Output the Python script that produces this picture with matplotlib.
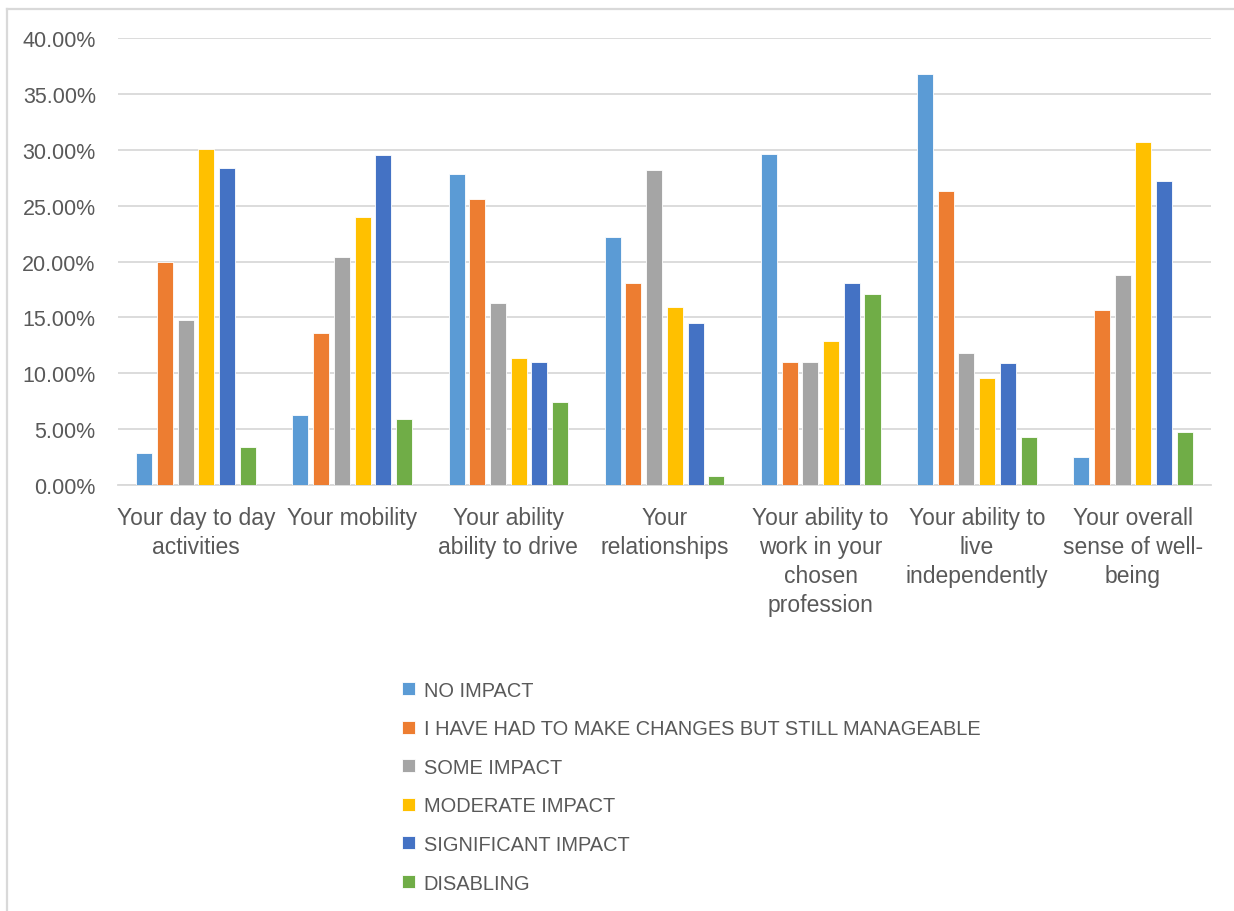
import numpy as np
import matplotlib.pyplot as plt
from matplotlib.lines import Line2D
from matplotlib.ticker import PercentFormatter

plt.rcParams['font.family'] = ['Liberation Sans', 'DejaVu Sans']

categories = ["Your day to day\nactivities", "Your mobility", "Your ability\nability to drive",
              "Your\nrelationships", "Your ability to\nwork in your\nchosen\nprofession",
              "Your ability to\nlive\nindependently", "Your overall\nsense of well-\nbeing"]

no_impact = [2.9, 6.3, 27.8, 22.2, 29.6, 36.8, 2.5]
changes_manageable = [20.0, 13.6, 25.6, 18.1, 11.0, 26.3, 15.7]
some_impact = [14.8, 20.4, 16.3, 28.2, 11.0, 11.8, 18.8]
moderate_impact = [30.05, 24.0, 11.4, 15.9, 12.9, 9.6, 30.7]
significant_impact = [28.4, 29.5, 11.0, 14.5, 18.1, 10.9, 27.2]
disabling = [3.4, 5.9, 7.4, 0.85, 17.1, 4.3, 4.75]

series = [
    ("NO IMPACT", no_impact, "#5B9BD5"),
    ("I HAVE HAD TO MAKE CHANGES BUT STILL MANAGEABLE", changes_manageable, "#ED7D31"),
    ("SOME IMPACT", some_impact, "#A5A5A5"),
    ("MODERATE IMPACT", moderate_impact, "#FFC000"),
    ("SIGNIFICANT IMPACT", significant_impact, "#4472C4"),
    ("DISABLING", disabling, "#70AD47"),
]

text_color = "#595959"
grid_color = "#D9D9D9"

fig = plt.figure(figsize=(12.34, 9.12), dpi=100)
ax = fig.add_axes([0.0956, 0.4671, 0.8858, 0.4901])

x = np.arange(len(categories))
step = 0.1327
width = 0.103
for i, (name, vals, col) in enumerate(series):
    ax.bar(x + (i - 2.5) * step, vals, width, color=col, label=name,
           edgecolor="white", linewidth=0.6, zorder=3)

ax.set_xlim(-0.5, len(categories) - 0.5)
ax.set_ylim(0, 40)
ax.set_yticks(np.arange(0, 41, 5))
ax.yaxis.set_major_formatter(PercentFormatter(decimals=2))
ax.grid(axis="y", color=grid_color, linewidth=1.3, zorder=0)
for s in ["top", "right", "left"]:
    ax.spines[s].set_visible(False)
ax.spines["bottom"].set_color(grid_color)
ax.spines["bottom"].set_linewidth(1.3)

ax.set_xticks(x)
ax.set_xticklabels(categories, fontsize=16.5, color=text_color, linespacing=1.33, va="top")
ax.tick_params(axis="x", length=0, pad=15)
ax.tick_params(axis="y", length=0, pad=16, labelsize=15.5, labelcolor=text_color)

leg = fig.legend(loc="upper left", bbox_to_anchor=(0.3115, 0.2724), frameon=False,
                 fontsize=14.4, labelcolor=text_color, handlelength=0.62, handleheight=0.62,
                 handletextpad=0.45, labelspacing=0.98)

# chart border
fig.add_artist(Line2D([7 / 1234, 7 / 1234], [0, 1 - 10 / 912], color=grid_color, lw=1.6))
fig.add_artist(Line2D([7 / 1234, 1], [1 - 10 / 912, 1 - 10 / 912], color=grid_color, lw=1.6))

fig.savefig("out.png", dpi=100)
